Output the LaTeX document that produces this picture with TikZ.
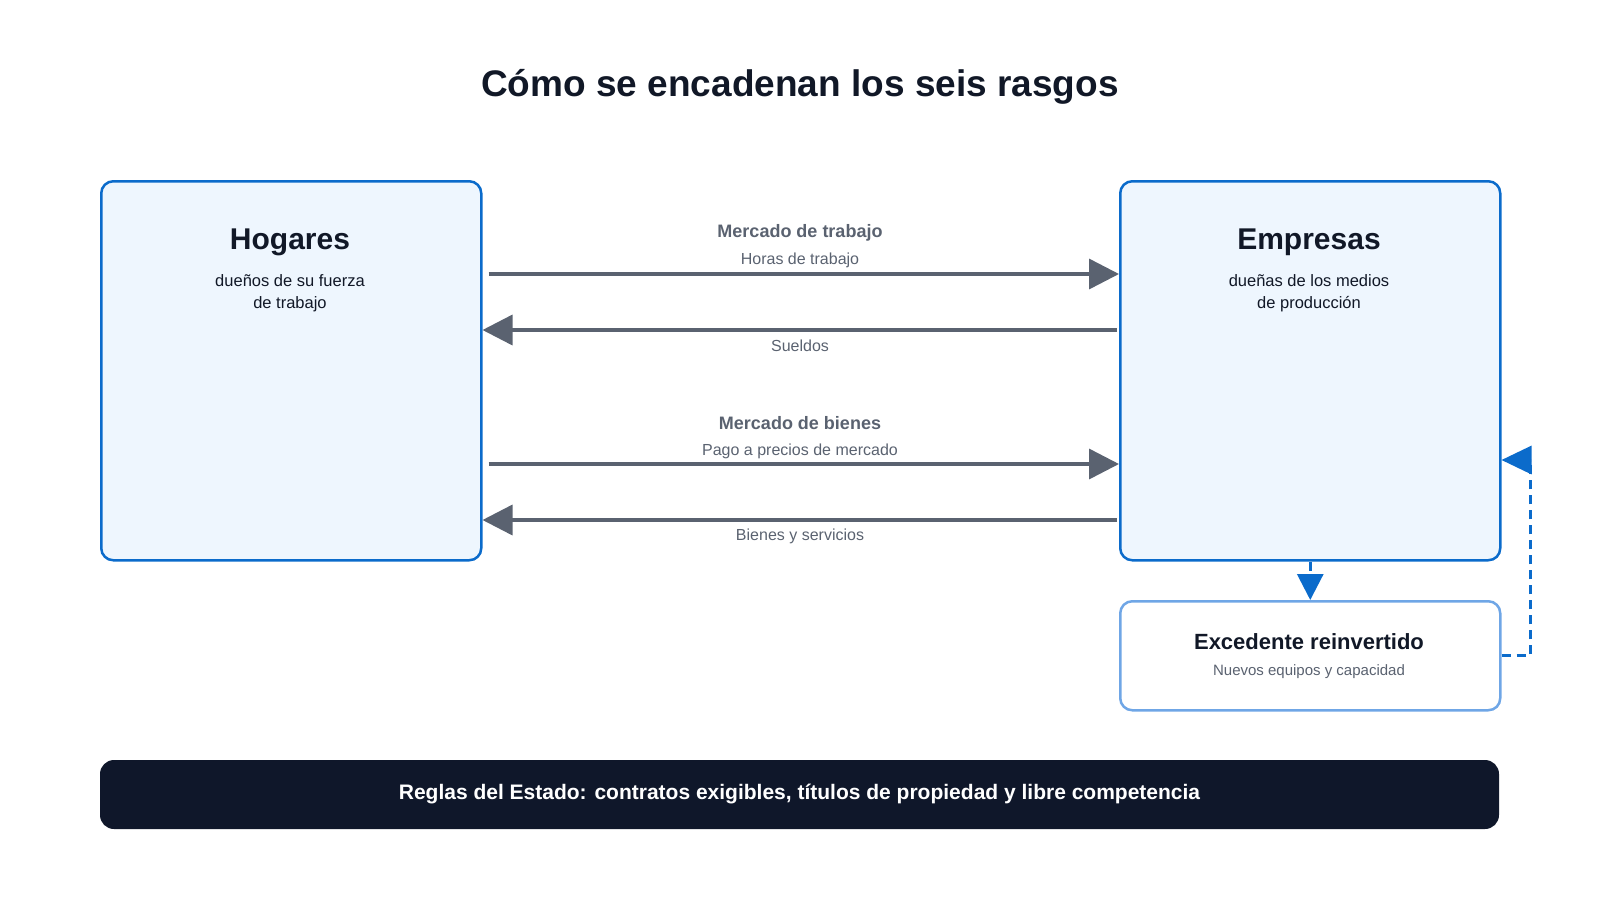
\documentclass[tikz,border=0pt]{standalone}
\usepackage{fontspec}
\setmainfont{Liberation Sans}
\usetikzlibrary{arrows.meta,positioning}
\definecolor{flowgray}{HTML}{5A6270}
\definecolor{agentblue}{HTML}{0B6BCB}
\definecolor{agentfill}{HTML}{EEF6FE}
\definecolor{surplusblue}{HTML}{6FA6E6}
\definecolor{barnavy}{HTML}{0F172A}
\definecolor{titleink}{HTML}{111827}
\tikzset{
  agent/.style={draw=agentblue, fill=agentfill, line width=2.5pt, rounded corners=12pt,
    minimum width=380pt, minimum height=379pt, anchor=north west},
  flow/.style={draw=flowgray, line width=3.5pt, -{Triangle[length=30pt,width=30pt]}},
  flowlabel/.style={text=flowgray, font=\fontsize{16}{18}\selectfont},
  marketlabel/.style={text=flowgray, font=\fontsize{18}{20}\selectfont\bfseries},
}
\begin{document}
\begin{tikzpicture}[x=1pt,y=-1pt]
  \useasboundingbox (0,0) rectangle (1600,900);

  \node[font=\fontsize{37}{40}\selectfont\bfseries, text=titleink] (title) at (800,87) {Cómo se encadenan los seis rasgos};

  % agents
  \node[agent] (hog) at (100,180) {};
  \node[agent] (emp) at (1119,180) {};
  \node[font=\fontsize{30}{32}\selectfont\bfseries, text=titleink] (hogname) at (290,242) {Hogares};
  \node[font=\fontsize{16.5}{22}\selectfont, align=center, text=titleink] (hogsub) at (290,293) {dueños de su fuerza\\de trabajo};
  \node[font=\fontsize{30}{32}\selectfont\bfseries, text=titleink] (empname) at (1309,242) {Empresas};
  \node[font=\fontsize{16.5}{22}\selectfont, align=center, text=titleink] (empsub) at (1309,293) {dueñas de los medios\\de producción};

  % surplus
  \node[draw=surplusblue, fill=white, line width=2.5pt, rounded corners=12pt,
    minimum width=380pt, minimum height=109pt, anchor=north west] (exc) at (1119,600) {};
  \node[font=\fontsize{22}{24}\selectfont\bfseries, text=titleink] (excname) at (1309,642) {Excedente reinvertido};
  \node[flowlabel, font=\fontsize{15}{17}\selectfont] (excsub) at (1309,672) {Nuevos equipos y capacidad};

  % flows
  \coordinate (yh) at (0,274);
  \coordinate (ys) at (0,330);
  \coordinate (yp) at (0,464);
  \coordinate (yb) at (0,520);
  \draw[flow, shorten <=6pt] (hog.east |- yh) -- (emp.west |- yh);
  \draw[flow, shorten <=2pt] (emp.west |- ys) -- (hog.east |- ys);
  \draw[flow, shorten <=6pt] (hog.east |- yp) -- (emp.west |- yp);
  \draw[flow, shorten <=2pt] (emp.west |- yb) -- (hog.east |- yb);

  \node[marketlabel] (labmkt) at (800,233) {Mercado de trabajo};
  \node[flowlabel] (horas) at (800,260) {Horas de trabajo};
  \node[flowlabel] (sueldos) at (800,346) {Sueldos};
  \node[marketlabel] (goodmkt) at (800,423) {Mercado de bienes};
  \node[flowlabel] (pago) at (800,451) {Pago a precios de mercado};
  \node[flowlabel] (bienes) at (800,536) {Bienes y servicios};

  % reinvestment
  \draw[agentblue, line width=3pt, dashed, dash pattern=on 9pt off 6pt,
    -{Triangle[length=26pt,width=26pt]}] (emp.south) -- (exc.north);
  \coordinate (loop) at (1530,460);
  \draw[agentblue, line width=3pt, dash pattern=on 9pt off 6pt,
    -{Triangle[length=30pt,width=28pt]}] (exc.east) -- (exc.east -| loop) -- (loop) -- (emp.east |- loop);

  % rules
  \node[fill=barnavy, rounded corners=14pt, minimum width=1399pt, minimum height=69pt,
    text=white, font=\fontsize{21}{23}\selectfont\bfseries] (rules) at (799.5,794.5)
    {Reglas del Estado: contratos exigibles, títulos de propiedad y libre competencia};
\end{tikzpicture}
\end{document}
